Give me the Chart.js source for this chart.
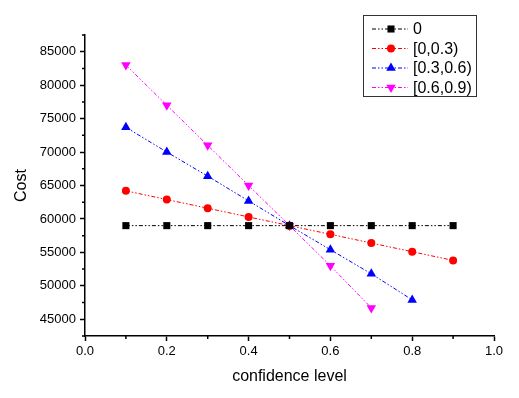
<!DOCTYPE html>
<html>
<head>
<meta charset="utf-8">
<script src="https://cdn.jsdelivr.net/npm/chart.js@4"></script>
<style>
  html, body { margin: 0; padding: 0; background: #fff; }
  #wrap { width: 519px; height: 398px; position: relative; }
</style>
</head>
<body>
<div id="wrap"><canvas id="chart"></canvas></div>
<script>
// Dados do gráfico
const xLevels = [0.1, 0.2, 0.3, 0.4, 0.5, 0.6, 0.7, 0.8, 0.9];
const seriesNames = ['0', '[0,0.3)', '[0.3,0.6)', '[0.6,0.9)'];
const cost0 = [59000, 59000, 59000, 59000, 59000, 59000, 59000, 59000, 59000];
const cost03 = [64200, 62900, 61600, 60300, 59000, 57700, 56400, 55100, 53800];
const cost36 = [73700, 70000, 66400, 62700, 59000, 55400, 51800, 47900];
const cost69 = [83000, 77000, 71000, 65000, 59000, 53000, 46700];
const xTicks = [0, 0.2, 0.4, 0.6, 0.8, 1.0];
const yTicks = [45000, 50000, 55000, 60000, 65000, 70000, 75000, 80000, 85000];

const FONT = "Arial, 'Liberation Sans', sans-serif";
const dashStyle = [4, 2, 1.5, 2, 1.5, 2];

function toPoints(values) {
    return values.map((v, i) => ({ x: xLevels[i], y: v }));
}

function makeSet(label, values, color, style, radius, rotation) {
    return {
        label: label,
        data: toPoints(values),
        borderColor: color,
        backgroundColor: color,
        borderWidth: 1,
        borderDash: dashStyle,
        pointStyle: style,
        pointRadius: radius,
        pointRotation: rotation || 0,
        pointBorderWidth: 0,
        pointBackgroundColor: color,
        tension: 0
    };
}

// Ticks menores nos eixos
const minorTicks = {
    id: 'minorTicks',
    afterDraw(chart) {
        const ctx = chart.ctx;
        const xs = chart.scales.x, ys = chart.scales.y;
        ctx.save();
        ctx.strokeStyle = '#000';
        ctx.lineWidth = 1.5;
        ctx.beginPath();
        for (let v = 0.1; v < 1; v += 0.2) {
            const px = xs.getPixelForValue(v);
            ctx.moveTo(px, xs.top);
            ctx.lineTo(px, xs.top + 3);
        }
        for (let v = 42500; v <= 87500; v += 5000) {
            const py = ys.getPixelForValue(v);
            ctx.moveTo(ys.right, py);
            ctx.lineTo(ys.right - 3, py);
        }
        ctx.stroke();
        ctx.restore();
    }
};

// Legenda dentro da área do gráfico
const boxLegend = {
    id: 'boxLegend',
    afterDraw(chart) {
        const ctx = chart.ctx;
        const bx = 363, by = 15, bw = 113, bh = 81;
        ctx.save();
        ctx.fillStyle = '#fff';
        ctx.fillRect(bx, by, bw, bh);
        ctx.strokeStyle = '#333';
        ctx.lineWidth = 1;
        ctx.strokeRect(bx + 0.5, by + 0.5, bw, bh);
        ctx.font = '16px ' + FONT;
        ctx.textBaseline = 'middle';
        chart.data.datasets.forEach((ds, i) => {
            const y = 29 + i * 19.5;
            ctx.strokeStyle = ds.borderColor;
            ctx.lineWidth = 1;
            ctx.setLineDash(dashStyle);
            ctx.beginPath();
            ctx.moveTo(372, y);
            ctx.lineTo(408, y);
            ctx.stroke();
            ctx.setLineDash([]);
            ctx.fillStyle = ds.borderColor;
            Chart.helpers.drawPoint(ctx, {
                pointStyle: ds.pointStyle,
                rotation: ds.pointRotation,
                radius: ds.pointRadius,
                borderWidth: 0
            }, 391, y);
            ctx.fillStyle = '#000';
            ctx.fillText(ds.label, 413, y + 1);
        });
        ctx.restore();
    }
};

const ctx = document.getElementById('chart').getContext('2d');
new Chart(ctx, {
    type: 'line',
    data: {
        datasets: [
            makeSet(seriesNames[0], cost0, '#000000', 'rect', 5),
            makeSet(seriesNames[1], cost03, '#ff0000', 'circle', 4),
            makeSet(seriesNames[2], cost36, '#0000ff', 'triangle', 5.5),
            makeSet(seriesNames[3], cost69, '#ff00ff', 'triangle', 5.5, 180)
        ]
    },
    options: {
        responsive: true,
        maintainAspectRatio: false,
        animation: false,
        layout: { padding: { left: 0, right: 25, top: 35, bottom: 0 } },
        plugins: {
            legend: { display: false },
            tooltip: { enabled: false }
        },
        scales: {
            x: {
                type: 'linear',
                min: 0,
                max: 1,
                afterBuildTicks: s => { s.ticks = xTicks.map(v => ({ value: v })); },
                afterFit: s => { s.height = 62; },
                grid: { drawOnChartArea: false, tickLength: 5, tickColor: '#000', tickWidth: 1.5 },
                border: { color: '#000', width: 1.5 },
                ticks: {
                    color: '#000',
                    font: { family: FONT, size: 13 },
                    padding: 3,
                    maxRotation: 0,
                    callback: v => v.toFixed(1)
                },
                title: {
                    display: true,
                    text: 'confidence level',
                    color: '#000',
                    font: { family: FONT, size: 16 },
                    padding: { top: 0, bottom: 12 }
                }
            },
            y: {
                type: 'linear',
                min: 42500,
                max: 87500,
                afterBuildTicks: s => { s.ticks = yTicks.map(v => ({ value: v })); },
                afterFit: s => { s.width = 85; },
                grid: { drawOnChartArea: false, tickLength: 5, tickColor: '#000', tickWidth: 1.5 },
                border: { color: '#000', width: 1.5 },
                ticks: {
                    color: '#000',
                    font: { family: FONT, size: 13 },
                    padding: 4,
                    callback: v => String(v)
                },
                title: {
                    display: true,
                    text: 'Cost',
                    color: '#000',
                    font: { family: FONT, size: 16 },
                    padding: { top: 12, bottom: 0 }
                }
            }
        }
    },
    plugins: [minorTicks, boxLegend]
});
</script>
</body>
</html>
